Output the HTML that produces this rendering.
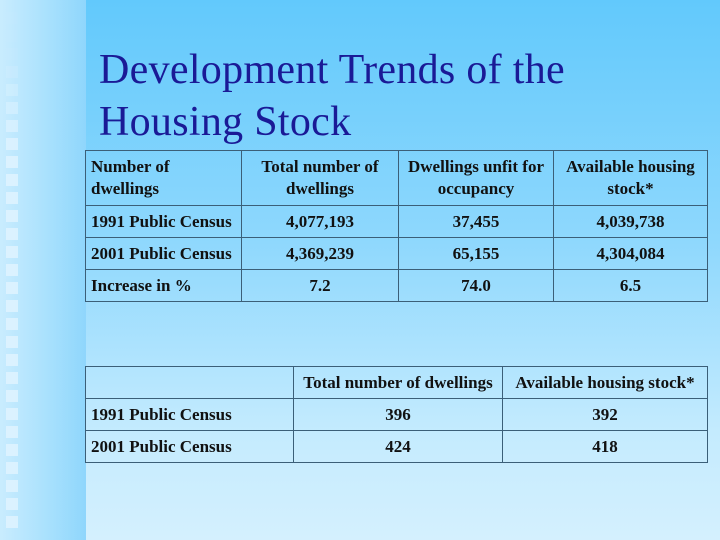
<!DOCTYPE html>
<html><head><meta charset="utf-8"><style>
body{margin:0;width:720px;height:540px;overflow:hidden;position:relative;font-family:"Liberation Serif","Times New Roman",serif;
background:linear-gradient(180deg,#62c9fc 0%,#8fd8fd 45%,#c4ebfe 80%,#d4f0fe 100%);}
#strip{position:absolute;left:0;top:0;width:86px;height:540px;background:linear-gradient(90deg,#c9ecfe 0%,#a6e0fd 60%,#8fd6fc 100%);}
.sq{position:absolute;left:6px;width:12px;height:12px;background:#dff3ff;}
h1{position:absolute;left:99px;top:44px;margin:0;font-weight:normal;font-size:42px;line-height:52px;color:#1a1a96;letter-spacing:0.3px;}
table{position:absolute;border-collapse:collapse;font-weight:bold;font-size:17px;color:#111;}
td{border:1.5px solid #3b5f78;padding:0 5px;line-height:22px;}
.c{text-align:center}
</style></head><body>
<div id="strip"></div>
<div id="sqs"></div>
<h1>Development Trends of the<br>Housing Stock</h1>
<table style="left:85px;top:150px;width:623px;height:152px">
<tr style="height:55px"><td style="width:145px">Number of dwellings</td><td class="c" style="width:146px">Total number of dwellings</td><td class="c" style="width:144px">Dwellings unfit for occupancy</td><td class="c">Available housing stock*</td></tr>
<tr><td>1991 Public Census</td><td class="c">4,077,193</td><td class="c">37,455</td><td class="c">4,039,738</td></tr>
<tr><td>2001 Public Census</td><td class="c">4,369,239</td><td class="c">65,155</td><td class="c">4,304,084</td></tr>
<tr><td>Increase in %</td><td class="c">7.2</td><td class="c">74.0</td><td class="c">6.5</td></tr>
</table>
<table style="left:85px;top:366px;width:623px;height:97px">
<tr><td style="width:197px"></td><td class="c" style="width:198px">Total number of dwellings</td><td class="c">Available housing stock*</td></tr>
<tr><td>1991 Public Census</td><td class="c">396</td><td class="c">392</td></tr>
<tr><td>2001 Public Census</td><td class="c">424</td><td class="c">418</td></tr>
</table>
<script>
var c=document.getElementById('sqs');
for(var y=12;y<525;y+=18){var d=document.createElement('div');d.className='sq';d.style.top=y+'px';
d.style.opacity=Math.min(0.85,Math.max(0.05,(y-40)/120));


c.appendChild(d);}
</script>
</body></html>
